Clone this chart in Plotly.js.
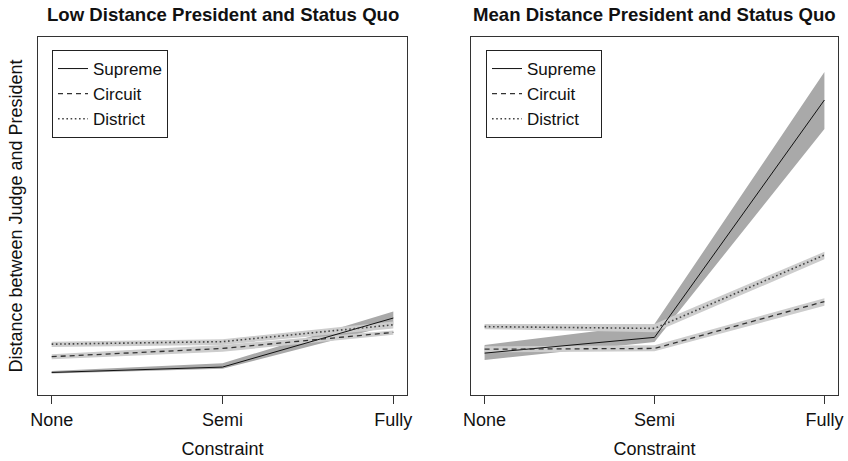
<!DOCTYPE html>
<html>
<head>
<meta charset="utf-8">
<script src="https://cdn.plot.ly/plotly-3.0.1.min.js"></script>
<style>html,body{margin:0;padding:0;background:#fff;}#chart{width:848px;height:461px;}</style>
</head>
<body>
<div id="chart"></div>
<script>
// Data
const constraints = ["None", "Semi", "Fully"];
const seriesNames = ["Supreme", "Circuit", "District"];
const panelTitles = ["Low Distance President and Status Quo", "Mean Distance President and Status Quo"];

// Low distance panel
const lowSupreme = [0.063, 0.078, 0.215];
const lowSupremeLo = [0.060, 0.073, 0.196];
const lowSupremeHi = [0.067, 0.089, 0.233];
const lowCircuit = [0.107, 0.130, 0.175];
const lowCircuitLo = [0.100, 0.121, 0.168];
const lowCircuitHi = [0.114, 0.140, 0.180];
const lowDistrict = [0.142, 0.149, 0.196];
const lowDistrictLo = [0.134, 0.140, 0.186];
const lowDistrictHi = [0.149, 0.156, 0.205];

// Mean distance panel
const meanSupreme = [0.117, 0.161, 0.824];
const meanSupremeLo = [0.098, 0.148, 0.743];
const meanSupremeHi = [0.140, 0.198, 0.902];
const meanCircuit = [0.128, 0.130, 0.261];
const meanCircuitLo = [0.119, 0.122, 0.249];
const meanCircuitHi = [0.136, 0.139, 0.270];
const meanDistrict = [0.191, 0.186, 0.391];
const meanDistrictLo = [0.184, 0.175, 0.379];
const meanDistrictHi = [0.198, 0.198, 0.400];

const lineStyles = [
  {color: "#111111", width: 1, dash: "solid"},
  {color: "#333333", width: 1.3, dash: "5px,4px"},
  {color: "#444444", width: 1.6, dash: "1.6px,2.6px"}
];
const bandColors = ["#a9a9a9", "#cdcdcd", "#cdcdcd"];

function band(lo, hi, color, xa, ya) {
  return {
    x: constraints.concat(constraints.slice().reverse()),
    y: hi.concat(lo.slice().reverse()),
    xaxis: xa, yaxis: ya,
    type: "scatter", mode: "lines", fill: "toself",
    fillcolor: color, line: {width: 0, color: color},
    hoverinfo: "skip", showlegend: false
  };
}
function line(y, i, xa, ya, legend) {
  return {
    x: constraints, y: y, xaxis: xa, yaxis: ya,
    type: "scatter", mode: "lines", name: seriesNames[i],
    line: lineStyles[i], legend: legend, showlegend: true
  };
}

const panels = [
  {xa: "x", ya: "y", lg: "legend",
   c: [lowSupreme, lowCircuit, lowDistrict],
   lo: [lowSupremeLo, lowCircuitLo, lowDistrictLo],
   hi: [lowSupremeHi, lowCircuitHi, lowDistrictHi]},
  {xa: "x2", ya: "y2", lg: "legend2",
   c: [meanSupreme, meanCircuit, meanDistrict],
   lo: [meanSupremeLo, meanCircuitLo, meanDistrictLo],
   hi: [meanSupremeHi, meanCircuitHi, meanDistrictHi]}
];

const traces = [];
panels.forEach(p => {
  for (let i = 0; i < 3; i++) traces.push(band(p.lo[i], p.hi[i], bandColors[i], p.xa, p.ya));
  for (let i = 0; i < 3; i++) traces.push(line(p.c[i], i, p.xa, p.ya, p.lg));
});

const font = {family: "Liberation Sans, Arial, sans-serif", color: "#111"};
function xaxis(domain) {
  return {
    domain: domain, type: "category", range: [-0.08, 2.08],
    showline: true, mirror: true, linecolor: "#333", linewidth: 1,
    ticks: "outside", ticklen: 8, tickcolor: "#333", tickwidth: 1,
    showgrid: false, zeroline: false, fixedrange: true,
    tickfont: {family: font.family, size: 18, color: "#111"},
    title: {text: "Constraint", font: {family: font.family, size: 18, color: "#111"}, standoff: 13}
  };
}
function yaxis(domain, anchor, withTitle) {
  const a = {
    domain: domain, anchor: anchor, range: [0, 1],
    showline: true, mirror: true, linecolor: "#333", linewidth: 1,
    showticklabels: false, ticks: "", showgrid: false, zeroline: false, fixedrange: true
  };
  if (withTitle) a.title = {text: "Distance between Judge and President",
    font: {family: font.family, size: 18, color: "#111"}, standoff: 9};
  return a;
}
const yDom = [(461 - 395) / 461, 1 - 37 / 461];
const legendBase = {
  yanchor: "top", xanchor: "left", y: 1 - 50 / 461,
  bordercolor: "#222", borderwidth: 1, bgcolor: "rgba(255,255,255,0)",
  font: {family: font.family, size: 17, color: "#111"},
  itemwidth: 30, tracegroupgap: 0
};

const layout = {
  width: 848, height: 461,
  margin: {l: 0, r: 0, t: 0, b: 0},
  paper_bgcolor: "#fff", plot_bgcolor: "#fff",
  font: font,
  xaxis: Object.assign(xaxis([38 / 848, 407 / 848]), {anchor: "y"}),
  yaxis: yaxis(yDom, "x", true),
  xaxis2: Object.assign(xaxis([471 / 848, 838 / 848]), {anchor: "y2"}),
  yaxis2: yaxis(yDom, "x2", false),
  legend: Object.assign({}, legendBase, {x: 52 / 848}),
  legend2: Object.assign({}, legendBase, {x: 486 / 848}),
  annotations: panelTitles.map((t, i) => ({
    text: "<b>" + t + "</b>", xref: (i === 0 ? "x" : "x2") + " domain", x: 0.5,
    yref: "paper", y: 1 - 15 / 461, yanchor: "middle", xanchor: "center",
    showarrow: false, font: {family: font.family, size: 18.6, color: "#111"}
  })),
  showlegend: true
};

Plotly.newPlot("chart", traces, layout, {displayModeBar: false, staticPlot: true});
</script>
</body>
</html>
